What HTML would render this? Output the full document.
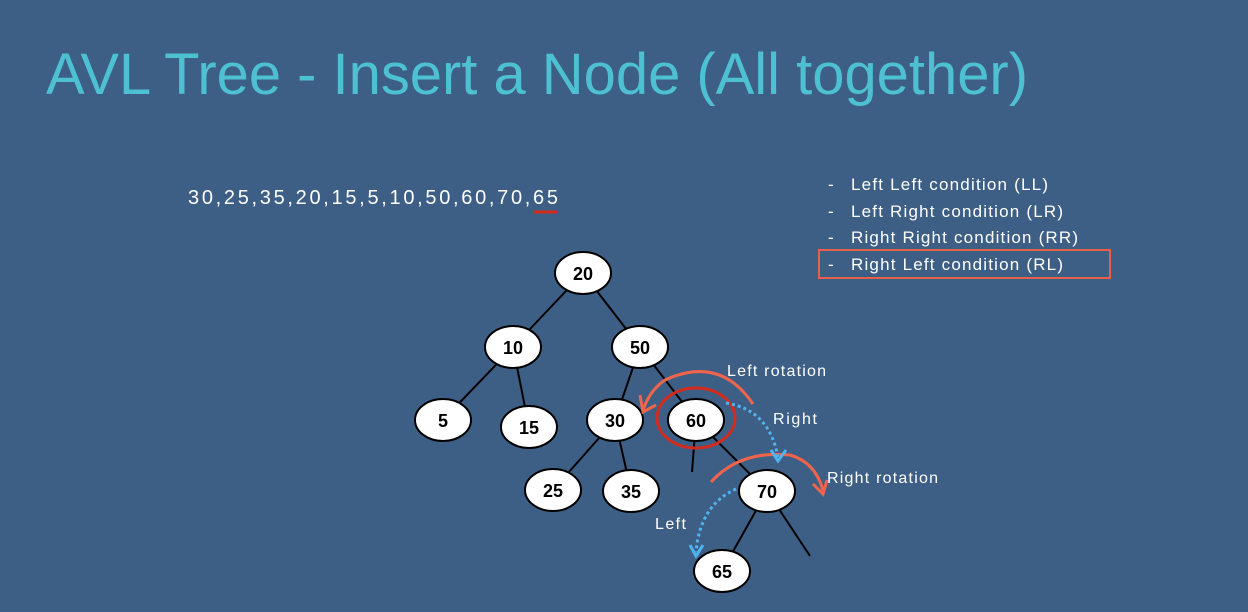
<!DOCTYPE html>
<html><head><style>
body{margin:0;width:1248px;height:607px;background:#3e5f85;overflow:hidden;font-family:"Liberation Sans",sans-serif}
</style></head><body>
<svg width="1248" height="607" xmlns="http://www.w3.org/2000/svg">
<rect width="1248" height="607" fill="#3e5f85"/>
<text x="46" y="94" font-size="58" fill="#4dc1d2" textLength="982" lengthAdjust="spacingAndGlyphs">AVL Tree - Insert a Node (All together)</text>
<text x="188" y="204" font-size="20" fill="#ffffff" textLength="370" lengthAdjust="spacing">30,25,35,20,15,5,10,50,60,70,65</text>
<line x1="533" y1="212" x2="557" y2="212" stroke="#d42a1e" stroke-width="3"/>
<g font-size="17" fill="#ffffff">
<text x="828" y="190">-</text><text x="851" y="190" textLength="197" lengthAdjust="spacing">Left Left condition (LL)</text>
<text x="828" y="217">-</text><text x="851" y="217" textLength="212" lengthAdjust="spacing">Left Right condition (LR)</text>
<text x="828" y="243">-</text><text x="851" y="243" textLength="227" lengthAdjust="spacing">Right Right condition (RR)</text>
<text x="828" y="270">-</text><text x="851" y="270" textLength="212" lengthAdjust="spacing">Right Left condition (RL)</text>
</g>
<rect x="819" y="250" width="291" height="28" fill="none" stroke="#e8604a" stroke-width="2"/>
<g stroke="#000" stroke-width="2">
<line x1="583" y1="273" x2="513" y2="347"/><line x1="583" y1="273" x2="640" y2="347"/>
<line x1="513" y1="347" x2="443" y2="420"/><line x1="513" y1="347" x2="529" y2="427"/>
<line x1="640" y1="347" x2="615" y2="420"/><line x1="640" y1="347" x2="696" y2="420"/>
<line x1="615" y1="420" x2="553" y2="490"/><line x1="615" y1="420" x2="631" y2="491"/>
<line x1="696" y1="420" x2="692" y2="472"/><line x1="696" y1="420" x2="767" y2="491"/>
<line x1="767" y1="491" x2="722" y2="571"/><line x1="767" y1="491" x2="810" y2="556"/>
</g>
<g fill="#fff" stroke="#000" stroke-width="2">
<ellipse cx="583" cy="273" rx="28" ry="21"/><ellipse cx="513" cy="347" rx="28" ry="21"/>
<ellipse cx="640" cy="347" rx="28" ry="21"/><ellipse cx="443" cy="420" rx="28" ry="21"/>
<ellipse cx="529" cy="427" rx="28" ry="21"/><ellipse cx="615" cy="420" rx="28" ry="21"/>
<ellipse cx="696" cy="420" rx="28" ry="21"/><ellipse cx="553" cy="490" rx="28" ry="21"/>
<ellipse cx="631" cy="491" rx="28" ry="21"/><ellipse cx="767" cy="491" rx="28" ry="21"/>
<ellipse cx="722" cy="571" rx="28" ry="21"/>
</g>
<g font-size="18" font-weight="bold" text-anchor="middle" fill="#000">
<text x="583" y="280">20</text><text x="513" y="354">10</text><text x="640" y="354">50</text>
<text x="443" y="427">5</text><text x="529" y="434">15</text><text x="615" y="427">30</text>
<text x="696" y="427">60</text><text x="553" y="497">25</text><text x="631" y="498">35</text>
<text x="767" y="498">70</text><text x="722" y="578">65</text>
</g>
<ellipse cx="696" cy="418" rx="39" ry="30" fill="none" stroke="#d42a1e" stroke-width="3"/>
<path d="M753 404 Q720 355 665 380 Q650 390 643 410" fill="none" stroke="#f0644c" stroke-width="3"/>
<path d="M640 395 L643 412 L656 405" fill="none" stroke="#f0644c" stroke-width="3"/>
<path d="M711 482 Q740 450 790 455 Q815 462 823 490" fill="none" stroke="#f0644c" stroke-width="3"/>
<path d="M813 484 L823 494 L827 480" fill="none" stroke="#f0644c" stroke-width="3"/>
<path d="M726 403 Q770 410 778 458" fill="none" stroke="#4fb3f0" stroke-width="3" stroke-dasharray="3 3"/>
<path d="M771 450 L778 461 L786 450" fill="none" stroke="#4fb3f0" stroke-width="3"/>
<path d="M736 489 Q700 505 696 552" fill="none" stroke="#4fb3f0" stroke-width="3" stroke-dasharray="3 3"/>
<path d="M690 545 L696 556 L703 545" fill="none" stroke="#4fb3f0" stroke-width="3"/>
<g font-size="16" fill="#ffffff">
<text x="727" y="376" textLength="99" lengthAdjust="spacing">Left rotation</text>
<text x="773" y="424" textLength="44" lengthAdjust="spacing">Right</text>
<text x="827" y="483" textLength="111" lengthAdjust="spacing">Right rotation</text>
<text x="655" y="529" textLength="31" lengthAdjust="spacing">Left</text>
</g>
</svg>
</body></html>
